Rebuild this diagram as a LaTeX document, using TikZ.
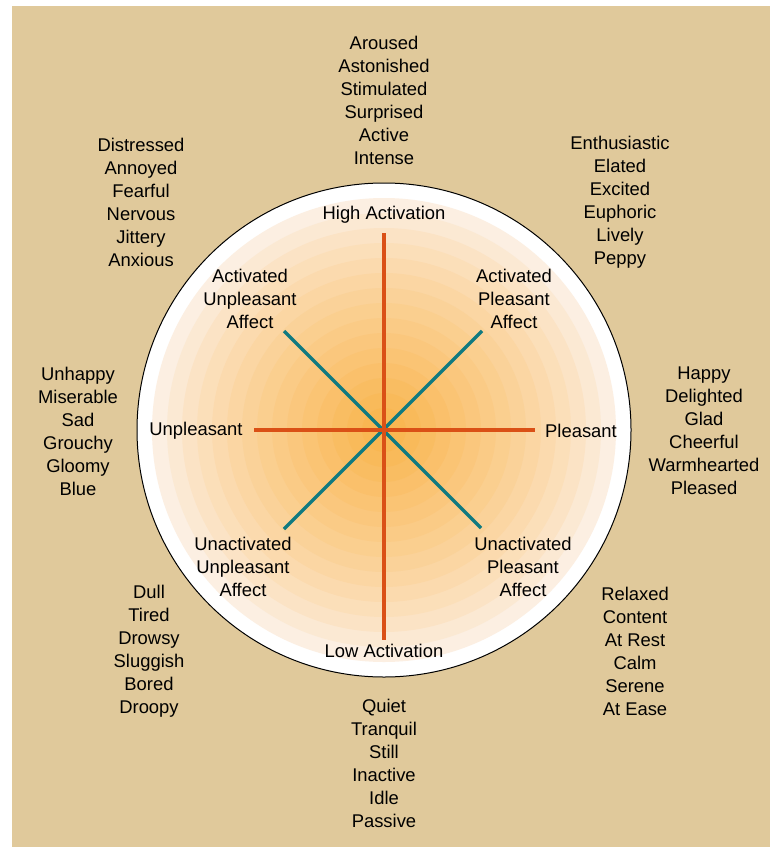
\documentclass[tikz,border=0pt]{standalone}
\usepackage{fontspec}
\setmainfont{Liberation Sans}
\definecolor{panel}{RGB}{224,201,155}
\definecolor{glow}{RGB}{249,178,70}
\definecolor{blush}{RGB}{252,244,240}
\definecolor{axis_orange}{RGB}{218,80,22}
\definecolor{axis_teal}{RGB}{16,122,128}

\begin{document}
\begin{tikzpicture}[x=1pt,y=-1pt,
    word_list/.style={align=center,font=\fontsize{18.4}{23}\selectfont,inner sep=0},
    axis_line/.style={line width=3.4pt},
    main_axis/.style={axis_line,draw=axis_orange},
    cross_axis/.style={axis_line,draw=axis_teal}]
    \useasboundingbox (0,0) rectangle (770,848);
    \fill[panel] (12,6) rectangle (770,847);
    \coordinate (c) at (384,430);
    \fill[white] (c) circle (247);
    \foreach \i in {0,...,14} {
        \pgfmathsetmacro\r{232-15*\i}
        \pgfmathsetmacro\k{100*(1-\r/240)^0.75}
        \fill[glow!\k!blush] (c) circle (\r);
    }
    \draw[line width=1pt] (c) circle (247);
    % axis ends
    \coordinate (n) at (384,233);
    \coordinate (s) at (384,640);
    \coordinate (w) at (254,430);
    \coordinate (e) at (535,430);
    \coordinate (nw) at (284,331);
    \coordinate (ne) at (482,331);
    \coordinate (sw) at (284,529);
    \coordinate (se) at (481,528);
    \draw[cross_axis] (nw) -- (se);
    \draw[cross_axis] (ne) -- (sw);
    \draw[main_axis] (n) -- (s);
    \draw[main_axis] (w) -- (e);
    % labels inside the circle
    \node[word_list] (high) at (384,215) {High Activation};
    \node[word_list] (low) at (384,651) {Low Activation};
    \node[word_list] (unpl) at (196,431) {Unpleasant};
    \node[word_list] (pl) at (581,431) {Pleasant};
    \node[word_list] (aua) at (250,299) {Activated\\Unpleasant\\Affect};
    \node[word_list] (apa) at (514,299) {Activated\\Pleasant\\Affect};
    \node[word_list] (uua) at (243,567) {Unactivated\\Unpleasant\\Affect};
    \node[word_list] (upa) at (523,567) {Unactivated\\Pleasant\\Affect};
    % word lists outside
    \node[word_list] (top) at (384,100) {Aroused\\Astonished\\Stimulated\\Surprised\\Active\\Intense};
    \node[word_list] (topleft) at (141,202) {Distressed\\Annoyed\\Fearful\\Nervous\\Jittery\\Anxious};
    \node[word_list] (topright) at (620,202) {Enthusiastic\\Elated\\Excited\\Euphoric\\Lively\\Peppy};
    \node[word_list] (left) at (78,431) {Unhappy\\Miserable\\Sad\\Grouchy\\Gloomy\\Blue};
    \node[word_list] (right) at (704,431) {Happy\\Delighted\\Glad\\Cheerful\\Warmhearted\\Pleased};
    \node[word_list] (botleft) at (149,651) {Dull\\Tired\\Drowsy\\Sluggish\\Bored\\Droopy};
    \node[word_list] (botright) at (635,651) {Relaxed\\Content\\At Rest\\Calm\\Serene\\At Ease};
    \node[word_list] (bottom) at (384,763) {Quiet\\Tranquil\\Still\\Inactive\\Idle\\Passive};
\end{tikzpicture}
\end{document}
